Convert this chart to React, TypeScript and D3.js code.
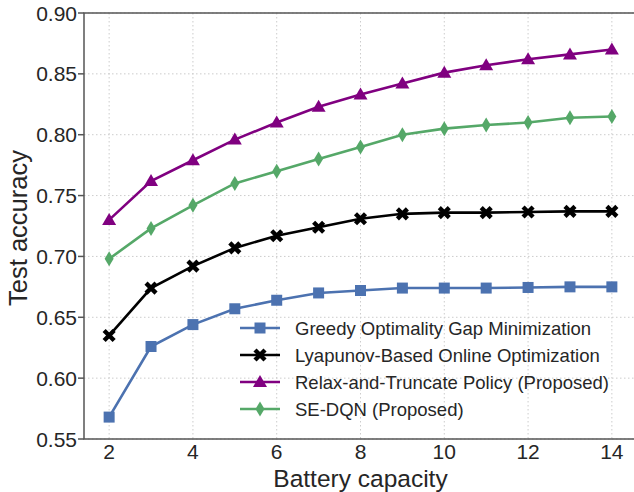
import React from "react";
import * as d3 from "d3";

const capacities = [2, 3, 4, 5, 6, 7, 8, 9, 10, 11, 12, 13, 14];
const greedy = [0.568, 0.626, 0.644, 0.657, 0.664, 0.67, 0.672, 0.674, 0.674, 0.674, 0.6745, 0.675, 0.675];
const lyapunov = [0.635, 0.674, 0.692, 0.707, 0.717, 0.724, 0.731, 0.735, 0.736, 0.736, 0.7365, 0.737, 0.737];
const relax = [0.73, 0.762, 0.779, 0.796, 0.81, 0.823, 0.833, 0.842, 0.851, 0.857, 0.862, 0.866, 0.87];
const sedqn = [0.698, 0.723, 0.742, 0.76, 0.77, 0.78, 0.79, 0.8, 0.805, 0.808, 0.81, 0.814, 0.815];
const xTicks = [2, 4, 6, 8, 10, 12, 14];
const yTicks = [0.55, 0.6, 0.65, 0.7, 0.75, 0.8, 0.85, 0.9];

const SERIES = [
  { name: "Greedy Optimality Gap Minimization", values: greedy, color: "#4C72B0", marker: "square" },
  { name: "Lyapunov-Based Online Optimization", values: lyapunov, color: "#000000", marker: "x" },
  { name: "Relax-and-Truncate Policy (Proposed)", values: relax, color: "#800080", marker: "triangle" },
  { name: "SE-DQN (Proposed)", values: sedqn, color: "#55A868", marker: "diamond" },
];

const FONT = "'Liberation Sans', Arial, sans-serif";
const TEXT = "#262626";

function Marker({ type, x, y, color }) {
  if (type === "square") {
    return <rect x={x - 5.5} y={y - 5.5} width={11} height={11} fill={color} />;
  }
  if (type === "triangle") {
    return <path d={`M${x},${y - 7}L${x + 7},${y + 5}L${x - 7},${y + 5}Z`} fill={color} />;
  }
  if (type === "diamond") {
    return <path d={`M${x},${y - 7.5}L${x + 4.5},${y}L${x},${y + 7.5}L${x - 4.5},${y}Z`} fill={color} />;
  }
  // filled X
  const a = 5, w = 2.2;
  return (
    <g stroke={color} strokeWidth={w * 2} strokeLinecap="butt">
      <line x1={x - a} y1={y - a} x2={x + a} y2={y + a} />
      <line x1={x - a} y1={y + a} x2={x + a} y2={y - a} />
    </g>
  );
}

export default function App() {
  const width = 634, height = 492;
  const margin = { top: 13, right: -3, bottom: 53, left: 84 };
  const x = d3.scaleLinear().domain([1.4, 14.6]).range([margin.left, width - margin.right]);
  const y = d3.scaleLinear().domain([0.55, 0.9]).range([height - margin.bottom, margin.top]);
  const line = d3.line<number>().x((d, i) => x(capacities[i])).y(d => y(d));

  const legendX = 240, legendY = 328, legendGap = 27;

  return (
    <svg width={width} height={height} style={{ position: "fixed", left: 0, top: 0, background: "#fff" }} fontFamily={FONT}>
      {/* grid */}
      {xTicks.map(t => (
        <line key={"gx" + t} x1={x(t)} x2={x(t)} y1={y(0.9)} y2={y(0.55)} stroke="#cccccc" strokeWidth={1} strokeDasharray="1.5,2.5" />
      ))}
      {yTicks.map(t => (
        <line key={"gy" + t} x1={x(1.4)} x2={x(14.6)} y1={y(t)} y2={y(t)} stroke="#cccccc" strokeWidth={1} strokeDasharray="1.5,2.5" />
      ))}

      {/* series */}
      {SERIES.map(s => (
        <g key={s.name}>
          <path d={line(s.values)} fill="none" stroke={s.color} strokeWidth={2.6} />
          {s.values.map((v, i) => (
            <Marker key={i} type={s.marker} x={x(capacities[i])} y={y(v)} color={s.color} />
          ))}
        </g>
      ))}

      {/* frame */}
      <rect x={x(1.4)} y={y(0.9)} width={x(14.6) - x(1.4)} height={y(0.55) - y(0.9)} fill="none" stroke="#555" strokeWidth={1.5} />

      {/* y ticks */}
      {yTicks.map(t => (
        <g key={"yt" + t}>
          <line x1={x(1.4) - 6} x2={x(1.4)} y1={y(t)} y2={y(t)} stroke="#555" strokeWidth={1.5} />
          <text x={x(1.4) - 7} y={y(t)} dy="0.36em" textAnchor="end" fontSize={21} fill={TEXT}>{t.toFixed(2)}</text>
        </g>
      ))}
      {/* x tick labels */}
      {xTicks.map(t => (
        <text key={"xt" + t} x={x(t)} y={y(0.55) + 20} textAnchor="middle" fontSize={21} fill={TEXT}>{t}</text>
      ))}

      <text x={(x(1.4) + x(14.6)) / 2} y={487} textAnchor="middle" fontSize={24.5} fill={TEXT}>Battery capacity</text>
      <text transform={`translate(27,${(y(0.9) + y(0.55)) / 2 + 2}) rotate(-90)`} textAnchor="middle" fontSize={25.5} fill={TEXT}>Test accuracy</text>

      {/* legend */}
      {SERIES.map((s, i) => {
        const ly = legendY + i * legendGap;
        return (
          <g key={"lg" + s.name}>
            <line x1={legendX} x2={legendX + 40} y1={ly} y2={ly} stroke={s.color} strokeWidth={2.6} />
            <Marker type={s.marker} x={legendX + 20} y={ly} color={s.color} />
            <text x={legendX + 55} y={ly} dy="0.36em" fontSize={18.5} fill={TEXT}>{s.name}</text>
          </g>
        );
      })}
    </svg>
  );
}
